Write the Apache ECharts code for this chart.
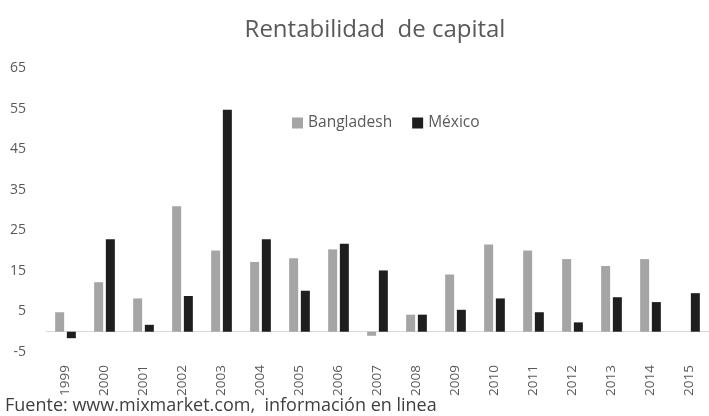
<!DOCTYPE html>
<html>
<head>
<meta charset="utf-8">
<script src="https://cdn.jsdelivr.net/npm/echarts@6/dist/echarts.min.js"></script>
<style>
  html, body { margin: 0; padding: 0; background: #ffffff; }
  #chartContainer { width: 709px; height: 416px; }
</style>
</head>
<body>
<div id="chartContainer"></div>
<script>
var YEARS = ['1999', '2000', '2001', '2002', '2003', '2004', '2005', '2006', '2007',
  '2008', '2009', '2010', '2011', '2012', '2013', '2014', '2015'];
var BANGLADESH = [4.8, 12.2, 8.2, 30.9, 20.0, 17.2, 18.1, 20.3, -1.0,
  4.2, 14.1, 21.5, 20.0, 17.9, 16.2, 17.9, null];
var MEXICO = [-1.6, 22.8, 1.7, 8.8, 54.7, 22.8, 10.1, 21.7, 15.1,
  4.2, 5.4, 8.2, 4.8, 2.3, 8.5, 7.3, 9.5];

var TEXT_COLOR = '#595959';
var FONT = '"Open Sans", "Noto Sans", sans-serif';

var CHART;
var CHART_OPTION = {
  animation: false,
  backgroundColor: '#ffffff',
  title: {
    text: 'Rentabilidad  de capital',
    left: 370,
    textAlign: 'center',
    top: 13,
    textStyle: { color: TEXT_COLOR, fontSize: 24, fontWeight: 'normal', fontFamily: FONT }
  },
  legend: {
    left: 287,
    top: 110,
    itemWidth: 11,
    itemHeight: 11,
    itemGap: 20,
    icon: 'rect',
    textStyle: { color: TEXT_COLOR, fontSize: 15.5, fontFamily: FONT },
    data: ['Bangladesh', 'México']
  },
  graphic: [
    {
      type: 'text',
      left: 5,
      top: 397,
      style: {
        text: 'Fuente: www.mixmarket.com,  información en linea',
        fill: '#3f3f3f',
        font: '18px ' + FONT
      }
    }
  ],
  grid: {
    left: 46,
    right: -17,
    top: 68,
    bottom: 64,
    containLabel: false
  },
  xAxis: {
    type: 'category',
    data: YEARS,
    axisLine: { onZero: true, lineStyle: { color: '#d9d9d9', width: 1 } },
    axisTick: { show: false },
    axisLabel: {
      rotate: 90,
      margin: 13,
      color: TEXT_COLOR,
      fontSize: 13.5,
      fontFamily: FONT,
      interval: 0
    }
  },
  yAxis: {
    type: 'value',
    min: -5,
    max: 65,
    interval: 5,
    splitLine: { show: false },
    axisLine: { show: false },
    axisTick: { show: false },
    axisLabel: {
      margin: 20,
      color: TEXT_COLOR,
      fontSize: 14,
      fontFamily: FONT,
      formatter: (value) => {
        return ((value + 5) % 10 === 0) ? String(value) : '';
      }
    }
  },
  series: [
    {
      name: 'Bangladesh',
      type: 'bar',
      data: BANGLADESH,
      barWidth: 9,
      barGap: '30%',
      itemStyle: { color: '#a5a5a5' }
    },
    {
      name: 'México',
      type: 'bar',
      data: MEXICO,
      barWidth: 9,
      itemStyle: { color: '#1e1e1e' }
    }
  ]
};

window.onload = _ => {
  CHART = echarts.init(document.getElementById('chartContainer'), null, { renderer: 'canvas' });
  CHART.setOption(CHART_OPTION);
};
</script>
</body>
</html>
